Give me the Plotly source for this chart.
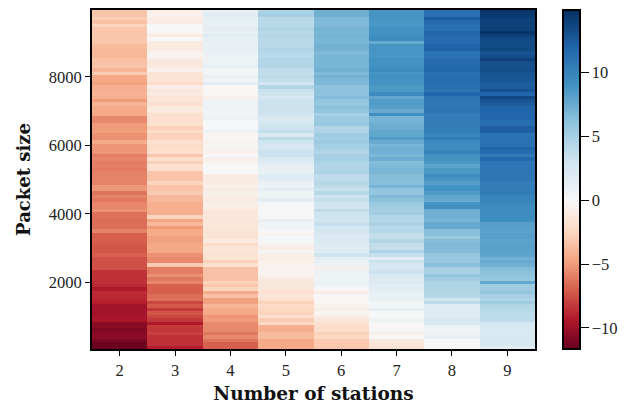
import plotly.graph_objects as go

stations = [2, 3, 4, 5, 6, 7, 8, 9]
packet_sizes = list(range(9900, 0, -100))

col2 = [-3.3,-3.3,-2.9,-3.4,-2.6,-3.2,-3.2,-3.2,-3.2,-3.2,-3.7,-3.8,-3.9,-3.9,-3.4,-3.5,-3.3,-4.0,-3.0,-4.5,
-4.5,-4.8,-4.2,-4.2,-4.0,-4.2,-5.0,-4.0,-4.4,-4.4,-4.4,-5.6,-5.6,-5.0,-5.0,-4.9,-5.3,-5.3,-4.4,-5.2,
-5.2,-5.2,-6.0,-5.7,-6.0,-5.9,-6.1,-5.8,-5.8,-5.8,
-5.8,-5.1,-5.1,-6.3,-5.8,-6.2,-5.7,-5.7,-5.3,-6.4,-6.4,-6.6,-6.5,-6.5,-5.8,-7.0,-7.0,-7.0,-7.2,
-7.3,-7.3,-7.0,-7.5,-7.5,-7.5,-7.5,-8.5,-8.5,-8.5,-8.5,-8.8,-9.4,-8.7,-8.8,-8.9,-9.2,-9.8,-9.8,-9.8,
-9.7,-9.5,-10.6,-10.6,-10.9,-10.6,-10.5,-11.0,-11.6,-11.6]
col3 = [-0.7,-0.5,-0.9,-0.9,0.0,0.0,-0.2,-1.0,0.0,-1.1,-1.1,-1.1,-0.3,-0.3,-1.0,-1.3,-1.2,-0.6,-1.6,-1.6,
-1.6,-2.2,-0.8,-1.4,-1.0,-1.6,-1.5,-2.0,-1.1,-1.1,-1.9,-1.9,-1.9,-1.9,-2.7,-2.2,-2.7,-2.7,-2.0,-2.2,
-2.2,-2.0,-3.2,-2.0,-2.8,-1.9,-2.0,-3.3,-3.3,-3.3,
-2.6,-3.4,-3.3,-3.0,-3.8,-3.8,-4.2,-4.2,-4.2,-4.2,-2.6,-4.6,-3.8,-5.0,-4.5,-4.4,-4.8,-4.8,-4.5,
-4.5,-4.5,-5.3,-5.6,-5.6,-3.0,-6.0,-6.0,-5.4,-6.2,-5.7,-7.0,-7.0,-7.0,-6.6,-6.4,-7.8,-7.2,-8.3,-7.3,
-7.8,-8.3,-9.4,-8.2,-8.3,-8.0,-8.5,-8.5,-8.5,-9.2]
col4 = [1.0,1.8,1.5,1.3,1.1,1.6,1.1,1.8,1.4,1.2,1.2,1.2,1.2,0.7,0.7,0.7,1.4,0.4,0.3,1.0,
0.5,1.7,0.0,0.1,-0.2,-0.6,0.6,0.6,0.6,0.6,0.5,0.9,0.2,0.2,0.2,0.8,-0.2,-0.2,-0.4,-0.1,
-0.4,-0.5,0.0,-0.6,-0.5,0.0,0.0,0.0,-1.0,-1.0,
-1.0,-0.5,-1.0,-0.7,-0.7,-1.0,-0.8,-0.8,-1.4,-1.4,-1.4,-1.4,-1.4,-1.4,-1.7,-1.7,-1.7,-1.0,-2.3,
-1.4,-1.6,-1.6,-1.6,-2.8,-1.9,-3.5,-3.5,-3.5,-3.5,-2.7,-3.2,-2.6,-4.4,-3.5,-4.8,-4.8,-4.0,-4.4,-4.5,
-5.2,-5.0,-5.6,-5.6,-5.6,-6.2,-5.6,-6.3,-7.0,-7.0]
col5 = [4.7,5.0,4.1,4.1,4.1,4.4,4.1,4.4,4.1,4.1,4.1,4.5,4.2,4.0,4.5,4.4,4.4,3.8,3.7,4.0,
3.6,2.9,4.4,3.3,3.1,2.6,3.2,3.2,3.2,3.2,3.0,2.4,2.4,3.0,3.1,3.6,2.2,4.0,3.1,2.6,
2.7,3.2,3.2,2.2,2.0,1.5,1.2,1.0,1.9,1.9,
1.0,0.8,1.6,0.7,0.7,1.6,0.2,0.1,0.1,0.1,0.1,1.2,0.5,0.7,0.0,-0.3,0.2,0.3,-0.4,
-0.9,0.3,-0.7,-0.9,-0.6,-0.5,-0.4,-0.3,-0.5,-1.2,-1.3,-1.3,-1.5,-1.8,-1.4,-1.9,-2.7,-2.3,-2.5,-2.6,
-2.0,-3.0,-2.4,-4.2,-4.3,-3.7,-3.7,-4.5,-4.5,-4.5]
col6 = [7.3,7.3,6.6,6.6,6.6,7.0,6.9,7.0,6.9,6.9,7.2,7.1,6.6,6.9,6.9,6.9,6.9,7.2,6.6,7.1,
6.7,6.6,6.1,6.1,6.1,6.5,5.9,5.8,6.2,6.0,4.9,5.5,5.5,5.8,4.5,4.5,5.3,5.1,5.5,5.1,
4.9,4.4,5.0,5.0,4.7,4.5,4.5,4.7,3.8,3.8,
4.3,3.8,3.3,4.2,3.1,3.5,3.0,3.0,3.8,3.1,3.1,2.8,3.4,2.7,2.8,2.3,2.1,2.1,2.0,
1.8,1.8,3.0,1.5,1.4,0.9,-0.8,0.9,0.8,0.7,1.0,0.7,-0.1,-0.9,0.1,-0.1,-0.2,-0.5,-0.8,-0.2,
-0.9,-1.3,-1.9,-2.1,-2.1,-2.8,-2.5,-3.1,-3.1,-3.2]
col7 = [8.8,8.9,8.9,8.7,8.7,9.1,8.9,9.2,9.4,7.6,8.8,8.8,8.8,8.7,9.1,8.9,9.2,9.5,8.9,9.2,
9.0,8.9,8.6,8.6,9.5,7.8,8.4,8.4,8.2,7.5,9.3,7.0,7.0,7.3,7.4,7.8,7.8,8.4,7.5,6.9,
7.3,7.2,6.8,7.4,6.5,6.6,6.9,6.9,6.4,6.4,
6.3,7.0,5.9,5.9,6.6,6.2,5.6,5.3,5.0,5.3,4.4,4.3,4.8,4.0,4.3,3.6,3.6,4.4,3.6,
3.6,4.6,3.5,1.6,3.3,2.7,2.6,3.2,2.3,2.1,2.3,1.7,1.7,1.2,1.0,1.3,0.4,0.4,1.3,0.2,
0.1,0.8,0.0,0.0,-0.1,-0.7,-0.1,-1.2,-1.4,-1.8]
col8 = [11.3,11.2,12.4,11.6,11.3,11.3,11.9,11.7,11.5,11.5,11.9,12.2,11.0,11.1,11.5,11.6,11.7,11.8,11.2,11.3,
11.6,11.3,11.3,10.9,11.9,10.9,10.7,10.7,10.7,10.9,10.3,10.3,10.4,10.3,10.3,10.3,9.8,10.5,9.6,9.5,
9.5,10.0,9.0,8.9,8.6,8.0,8.6,8.6,9.3,8.8,
8.2,9.0,9.0,8.5,7.8,7.6,8.8,9.3,7.4,7.1,7.3,6.9,7.6,7.6,6.3,6.3,5.6,6.4,6.6,
6.5,6.5,5.8,5.8,5.6,6.3,4.8,4.8,5.8,5.2,4.6,4.7,4.4,4.4,4.2,2.8,4.0,1.9,1.9,1.9,
1.9,2.5,2.5,1.0,0.5,0.6,1.2,0.0,0.0,0.0]
col9 = [14.5,14.4,14.0,13.9,13.9,13.9,14.7,14.0,13.5,13.4,13.4,13.6,13.0,13.3,14.0,13.2,13.1,13.3,13.0,12.8,
12.8,12.4,12.4,13.0,11.9,13.6,13.0,12.6,12.0,12.0,11.9,11.9,11.4,11.5,12.3,12.3,11.0,11.2,11.2,11.2,
12.0,11.6,10.6,11.8,10.9,10.9,10.9,10.9,10.9,10.9,
10.3,10.5,10.5,10.5,10.0,9.9,9.7,9.4,9.3,9.4,9.5,9.3,8.2,8.1,8.0,8.2,8.2,8.0,8.1,
8.1,8.0,7.9,7.2,7.5,7.2,6.5,6.2,6.0,5.8,7.7,5.4,5.4,5.9,5.0,4.7,5.3,4.4,4.2,4.0,
4.0,3.9,2.7,2.5,2.5,2.3,2.5,2.5,2.5,1.7]

columns = [col2, col3, col4, col5, col6, col7, col8, col9]
for c in columns:
    assert len(c) == len(packet_sizes), len(c)
z = [list(row) for row in zip(*columns)]

ZMIN, ZMAX = -11.65, 14.9
lower = ["#67001f", "#b2182b", "#d6604d", "#f4a582", "#fddbc7", "#f7f7f7"]
upper = ["#d1e5f0", "#92c5de", "#4393c3", "#2166ac", "#053061"]
mid = -ZMIN / (ZMAX - ZMIN)
colorscale = [[mid * i / 5, c] for i, c in enumerate(lower)]
colorscale += [[mid + (1 - mid) * (i + 1) / 5, c] for i, c in enumerate(upper)]

SERIF = "Liberation Serif"
fig = go.Figure(go.Heatmap(
    x=stations, y=packet_sizes, z=z, zmin=ZMIN, zmax=ZMAX, colorscale=colorscale,
    colorbar=dict(
        thickness=17, len=1, lenmode="fraction", x=1.063, xanchor="left", y=0.5, yanchor="middle",
        xpad=0, ypad=0, outlinecolor="black", outlinewidth=2,
        tickvals=[-10, -5, 0, 5, 10], ticks="outside", ticklen=8, tickwidth=1.2, tickcolor="black",
        ticktext=["\u221210", "\u22125", "0", "5", "10"],
        tickfont=dict(family=SERIF, size=16.5, color="#222"),
    ),
))
fig.update_layout(
    width=629, height=396,
    margin=dict(l=84, r=102, t=0, b=55),
    paper_bgcolor="white", plot_bgcolor="white",
    font=dict(family=SERIF, color="#111"),
)
axis = dict(showline=True, mirror=True, linecolor="black", linewidth=2, ticks="outside",
            ticklen=5, tickwidth=1.2, tickcolor="black", showgrid=False, zeroline=False,
            tickfont=dict(family=SERIF, size=16.5, color="#222"))
fig.update_xaxes(title=dict(text="<b>Number of stations</b>", font=dict(family="DejaVu Serif", size=18.5), standoff=9),
                 tickvals=stations, range=[1.5, 9.5], **axis)
fig.update_yaxes(title=dict(text="<b>Packet size</b>", font=dict(family="DejaVu Serif", size=18), standoff=13),
                 tickvals=[2000, 4000, 6000, 8000], range=[50, 9950], **axis)
fig.write_html("out.html")
